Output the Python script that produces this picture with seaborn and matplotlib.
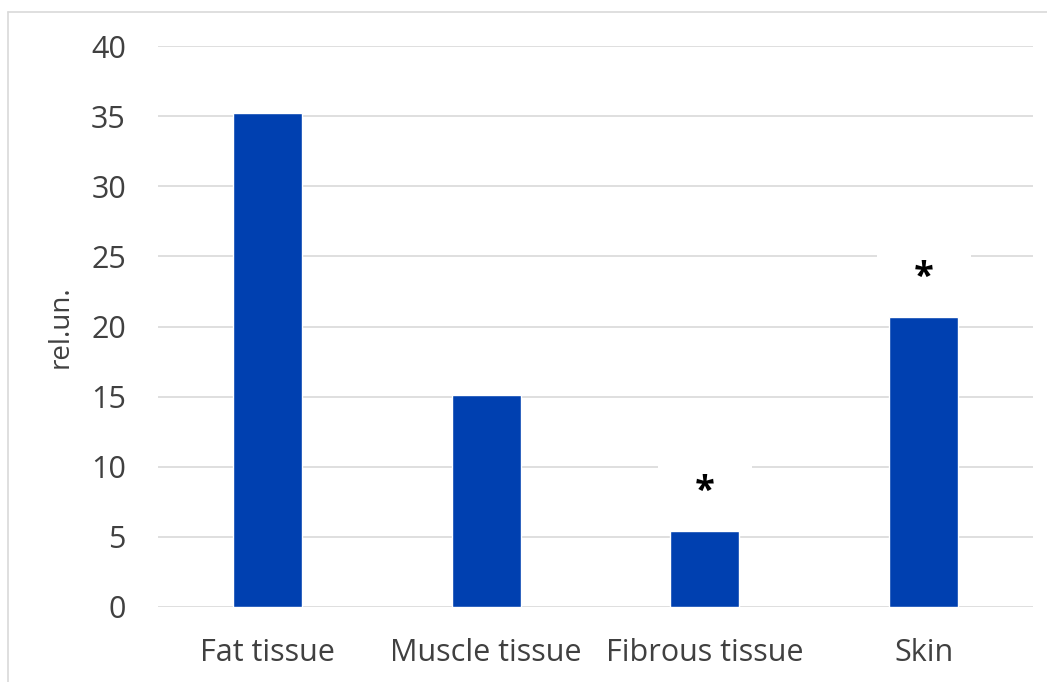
import matplotlib
matplotlib.use('Agg')
import numpy as np
import pandas as pd
import matplotlib.pyplot as plt
import seaborn as sns

# values
categories = ['Fat tissue', 'Muscle tissue', 'Fibrous tissue', 'Skin']
values = [35.2, 15.1, 5.4, 20.7]
marks = ['', '', '*', '*']
yticks = [0, 5, 10, 15, 20, 25, 30, 35, 40]

df = pd.DataFrame({'tissue': categories, 'value': values})

sns.set_style('white')
plt.rcParams['font.family'] = ['Open Sans', 'DejaVu Sans']
txt = '#404040'
grid = '#D9D9D9'

fig = plt.figure(figsize=(10.47, 6.82), dpi=100)
ax = fig.add_axes([158/1047, 1-607/682, (1033-158)/1047, (607-46)/682])

sns.barplot(data=df, x='tissue', y='value', color='#0040B0', saturation=1,
            width=0.315, ax=ax, zorder=3)

ax.set_ylim(0, 40)
ax.set_yticks(yticks)
ax.set_xlim(-0.5, 3.5)
ax.yaxis.grid(True, color=grid, linewidth=1.2, zorder=0)
ax.set_axisbelow(True)
for s in ax.spines.values():
    s.set_visible(False)
ax.tick_params(axis='both', length=0, labelsize=22, colors=txt)
ax.tick_params(axis='y', pad=23)
ax.tick_params(axis='x', pad=22)
ax.set_xlabel('')
ax.set_ylabel('rel.un.', fontsize=20, color=txt, labelpad=12)

for i, (v, m) in enumerate(zip(values, marks)):
    if m:
        # white label box cuts the gridline behind the star, like Excel
        ax.annotate('   ' + m + '   ', (i, v), xytext=(0, 28),
                    textcoords='offset points', ha='center', va='center',
                    fontsize=26, color='black', fontweight='bold', zorder=4,
                    bbox=dict(boxstyle='square,pad=0.25', fc='white', ec='none'))

# light frame round the chart (left and top, as in the reference)
fig.add_artist(plt.Line2D([8/1047, 8/1047], [0, 1-12/682], color=grid,
                          linewidth=1.2, transform=fig.transFigure))
fig.add_artist(plt.Line2D([8/1047, 1], [1-12/682, 1-12/682], color=grid,
                          linewidth=1.2, transform=fig.transFigure))

fig.savefig('out.png', dpi=100)
